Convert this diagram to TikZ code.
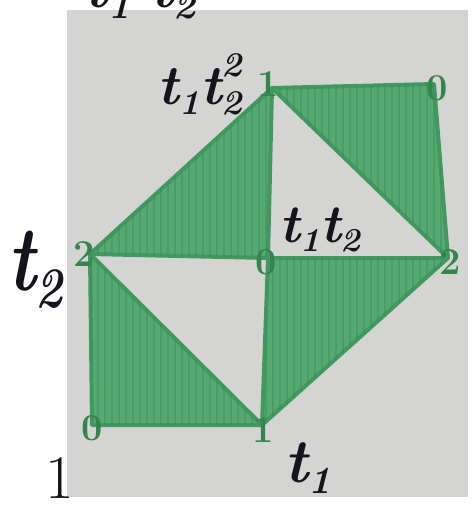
\documentclass[tikz,border=0pt]{standalone}
\usepackage{fontspec}
\begin{document}
\begin{tikzpicture}[x=1pt,y=-1pt]
\definecolor{paper}{RGB}{212,212,210}
\definecolor{gfill}{RGB}{84,170,112}
\definecolor{gline}{RGB}{66,152,94}
\definecolor{gdark}{RGB}{52,132,78}
\definecolor{ink}{RGB}{20,20,28}
\tikzset{
  tri/.style={fill=gfill, draw=gline, line width=4pt, line join=round},
  hatch/.style={draw=gdark, line width=1.2pt, opacity=0.3},
  vlab/.style={text=gdark, font=\fontsize{38}{38}\selectfont\bfseries, inner sep=0pt},
  blab/.style={text=ink, inner sep=0pt},
}
\newcommand{\sbx}[1]{\raisebox{-0.18em}{\scalebox{0.62}{#1}}}
\newcommand{\spx}[1]{\raisebox{0.5em}{\scalebox{0.62}{#1}}}
\useasboundingbox (0,0) rectangle (474,508);
\clip (0,0) rectangle (474,508);
\fill[white] (0,0) rectangle (474,508);
\fill[paper] (67,10) rectangle (468,497);
% vertices
\coordinate (A) at (272,88);
\coordinate (B) at (434,84);
\coordinate (C) at (90,254);
\coordinate (D) at (268,258);
\coordinate (E) at (448,258);
\coordinate (F) at (92,425);
\coordinate (G) at (262,425);
% triangles
\foreach \p/\q/\r in {A/B/E, A/C/D, D/E/G, C/F/G}{
  \draw[tri] (\p) -- (\q) -- (\r) -- cycle;
  \begin{scope}
    \clip (\p) -- (\q) -- (\r) -- cycle;
    \foreach \x in {70,77,...,470} \draw[hatch] (\x,60) -- (\x,450);
  \end{scope}
}
% vertex digits
\node[vlab] (lA) at (268,84) {1};
\node[vlab] (lB) at (437,88) {0};
\node[vlab] (lC) at (84,254) {2};
\node[vlab] (lD) at (266,262) {0};
\node[vlab] (lE) at (450,262) {2};
\node[vlab] (lF) at (92,428) {0};
\node[vlab] (lG) at (263,430) {1};
% black labels
\node[blab, font=\fontsize{56}{56}\selectfont\bfseries\itshape] (t12sq) at (200,84) {t\sbx{1}t\sbx{2}\llap{\spx{2}}};
\node[blab, font=\fontsize{54}{54}\selectfont\bfseries\itshape] (t12) at (320,230) {t\sbx{1}t\sbx{2}};
\node[blab, font=\fontsize{74}{74}\selectfont\bfseries\itshape, yscale=1.25] (t2) at (35,270) {t\sbx{2}};
\node[blab, font=\fontsize{62}{62}\selectfont] (one) at (60,478) {1};
\node[blab, font=\fontsize{62}{62}\selectfont\bfseries\itshape] (t1) at (308,468) {t\sbx{1}};
\node[blab, font=\fontsize{60}{60}\selectfont\bfseries\itshape] (topcut) at (140,-6) {t\sbx{1}\,\,t\sbx{2}};
\end{tikzpicture}
\end{document}
